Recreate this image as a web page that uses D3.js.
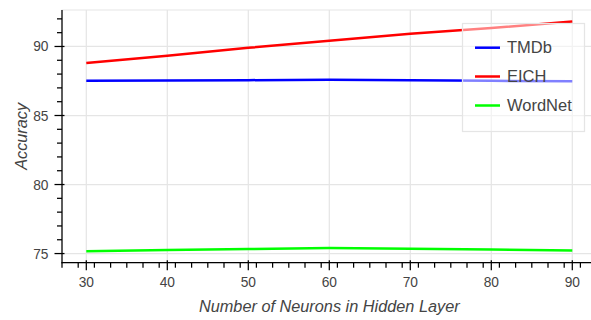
<!DOCTYPE html>
<html>
<head>
<meta charset="utf-8">
<script src="https://cdn.jsdelivr.net/npm/d3@7"></script>
<style>
  html, body { margin: 0; padding: 0; background: #fff; overflow: hidden; }
  svg { display: block; font-family: "Liberation Sans", Helvetica, Arial, sans-serif; }
</style>
</head>
<body>
<svg id="chart" width="591" height="320"></svg>
<script>
// ---- data ----
const neurons = [30, 40, 50, 60, 70, 80, 90];
const seriesNames = ["TMDb", "EICH", "WordNet"];
const seriesColors = ["#0000ff", "#ff0000", "#00ff00"];
const tmdb = [87.51, 87.53, 87.56, 87.59, 87.56, 87.51, 87.49];
const eich = [88.80, 89.33, 89.90, 90.41, 90.92, 91.33, 91.81];
const wordnet = [75.17, 75.25, 75.33, 75.40, 75.35, 75.29, 75.22];
const xTicks = [30, 40, 50, 60, 70, 80, 90];
const yTicks = [75, 80, 85, 90];
const xLabel = "Number of Neurons in Hidden Layer";
const yLabel = "Accuracy";

const seriesValues = [tmdb, eich, wordnet];

// ---- layout ----
const svg = d3.select("#chart");
const frame = { left: 62, top: 10, right: 596.6, bottom: 262.7 };

const allY = seriesValues.flat();
const yMin = d3.min(allY), yMax = d3.max(allY);
const yPad = (yMax - yMin) * 0.05;
const xMin = d3.min(neurons), xMax = d3.max(neurons);
const xPad = (xMax - xMin) * 0.05;

const x = d3.scaleLinear().domain([xMin - xPad, xMax + xPad]).range([frame.left, frame.right]);
const y = d3.scaleLinear().domain([yMin - yPad, yMax + yPad]).range([frame.bottom, frame.top]);

// frame outline
svg.append("rect")
  .attr("x", frame.left).attr("y", frame.top)
  .attr("width", frame.right - frame.left).attr("height", frame.bottom - frame.top)
  .attr("fill", "none").attr("stroke", "#e5e5e5").attr("stroke-width", 1);

// grid
const grid = svg.append("g").attr("stroke", "#e5e5e5").attr("stroke-width", 1.25);
grid.selectAll("line.gx").data(xTicks).join("line")
  .attr("x1", d => x(d)).attr("x2", d => x(d))
  .attr("y1", frame.top).attr("y2", frame.bottom);
grid.selectAll("line.gy").data(yTicks).join("line")
  .attr("y1", d => y(d)).attr("y2", d => y(d))
  .attr("x1", frame.left).attr("x2", frame.right);

// lines
const line = d3.line().x((d, i) => x(neurons[i])).y(d => y(d));
seriesValues.forEach((vals, k) => {
  svg.append("path")
    .attr("d", line(vals))
    .attr("fill", "none")
    .attr("stroke", seriesColors[k])
    .attr("stroke-width", 2.5);
});

// axes
const axisG = svg.append("g").attr("stroke", "#000").attr("stroke-width", 1.25);
const xMinor = d3.range(Math.ceil(x.domain()[0]), x.domain()[1] + 0.001, 2).filter(v => v % 10 !== 0);
const yMinor = d3.range(Math.ceil(y.domain()[0]), y.domain()[1] + 0.001, 1).filter(v => v % 5 !== 0);
const xb = frame.bottom;
const yl = frame.left;
// x axis line
axisG.append("line").attr("x1", frame.left - 0.6).attr("x2", frame.right).attr("y1", xb).attr("y2", xb);
axisG.selectAll("line.xmaj").data(xTicks).join("line")
  .attr("x1", d => x(d)).attr("x2", d => x(d))
  .attr("y1", xb - 2.5).attr("y2", xb + 7.5);
axisG.selectAll("line.xmin").data(xMinor).join("line")
  .attr("x1", d => x(d)).attr("x2", d => x(d))
  .attr("y1", xb).attr("y2", xb + 5);
// y axis line
axisG.append("line").attr("x1", yl).attr("x2", yl).attr("y1", frame.top).attr("y2", frame.bottom + 0.6);
axisG.selectAll("line.ymaj").data(yTicks).join("line")
  .attr("y1", d => y(d)).attr("y2", d => y(d))
  .attr("x1", yl - 7.5).attr("x2", yl + 2.5);
axisG.selectAll("line.ymin").data(yMinor).join("line")
  .attr("y1", d => y(d)).attr("y2", d => y(d))
  .attr("x1", yl - 5).attr("x2", yl);

// tick labels
svg.append("g").selectAll("text").data(xTicks).join("text")
  .attr("x", d => x(d)).attr("y", 287.3)
  .attr("text-anchor", "middle").attr("font-size", 13.75).attr("fill", "#444")
  .text(d => d);
svg.append("g").selectAll("text").data(yTicks).join("text")
  .attr("x", 48.5).attr("y", d => y(d) + 5)
  .attr("text-anchor", "end").attr("font-size", 13.75).attr("fill", "#444")
  .text(d => d);

// axis labels
svg.append("text")
  .attr("x", (frame.left + frame.right) / 2).attr("y", 311.7)
  .attr("text-anchor", "middle").attr("font-size", 16.3).attr("font-style", "italic").attr("fill", "#444")
  .text(xLabel);
svg.append("text")
  .attr("transform", `translate(26.5,${(frame.top + frame.bottom) / 2}) rotate(-90)`)
  .attr("text-anchor", "middle").attr("font-size", 16.3).attr("font-style", "italic").attr("fill", "#444")
  .text(yLabel);

// legend
const lg = svg.append("g");
lg.append("rect")
  .attr("x", 462.5).attr("y", 23.5).attr("width", 122).attr("height", 108)
  .attr("fill", "#fff").attr("fill-opacity", 0.5)
  .attr("stroke", "#e5e5e5").attr("stroke-width", 1.25);
const legendY = [47.7, 76.5, 105.5];
seriesNames.forEach((name, k) => {
  lg.append("line")
    .attr("x1", 475).attr("x2", 500)
    .attr("y1", legendY[k]).attr("y2", legendY[k])
    .attr("stroke", seriesColors[k]).attr("stroke-width", 2.5);
  lg.append("text")
    .attr("x", 507).attr("y", legendY[k] + 5)
    .attr("font-size", 16.5).attr("fill", "#444")
    .text(name);
});
</script>
</body>
</html>
